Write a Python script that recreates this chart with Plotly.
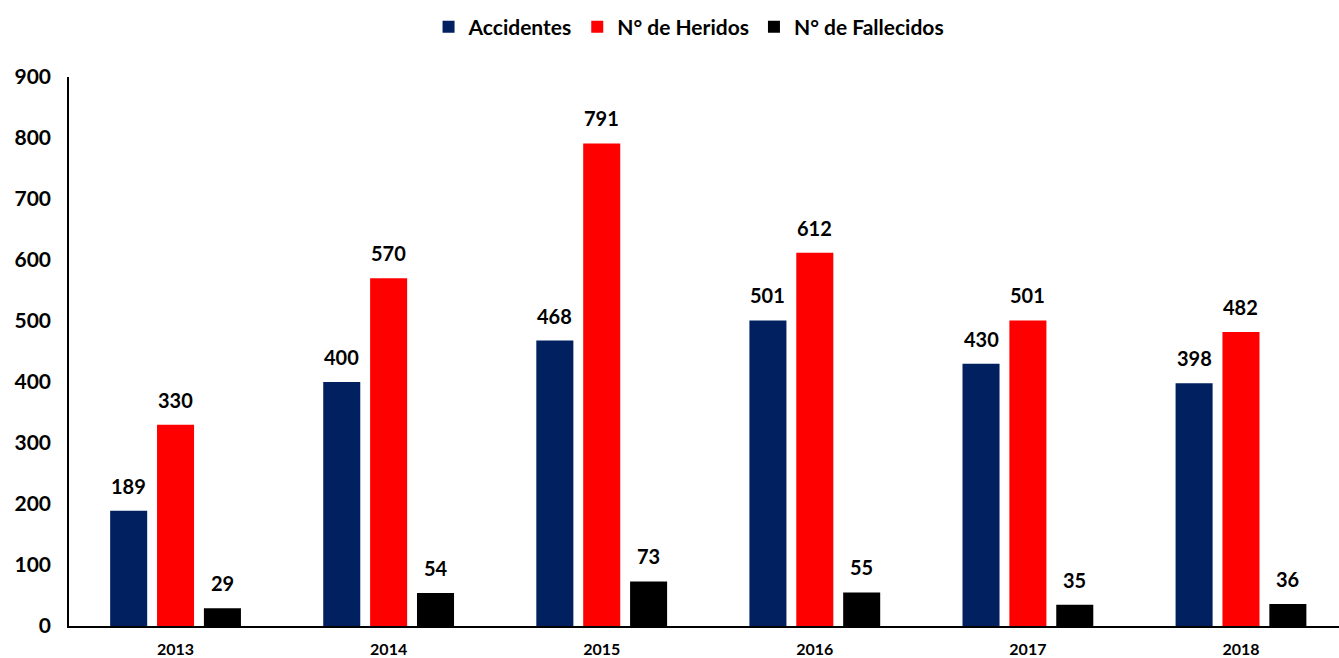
import plotly.graph_objects as go

years = ["2013", "2014", "2015", "2016", "2017", "2018"]
accidentes = [189, 400, 468, 501, 430, 398]
heridos = [330, 570, 791, 612, 501, 482]
fallecidos = [29, 54, 73, 55, 35, 36]

series = [
    ("Accidentes", accidentes, "#002060"),
    ("N° de Heridos", heridos, "#FF0000"),
    ("N° de Fallecidos", fallecidos, "#000000"),
]

FONT = "Lato, 'Open Sans', sans-serif"
BARGAP = 0.34
GROUPGAP = 0.21

fig = go.Figure()
for name, vals, color in series:
    fig.add_trace(go.Bar(
        x=years, y=vals, name=name,
        marker=dict(color=color, line=dict(width=0)),
    ))

# value labels above each bar, placed at the bar's centre in category units
slot = (1 - BARGAP) / len(series)
annotations = []
for i, (name, vals, color) in enumerate(series):
    offset = (i - (len(series) - 1) / 2) * slot
    for k, v in enumerate(vals):
        annotations.append(dict(
            x=k + offset, y=v, xref="x", yref="y",
            text=str(v), showarrow=False,
            yanchor="bottom", yshift=11,
            font=dict(family=FONT, size=20, color="#000000", weight="bold"),
        ))

fig.update_layout(
    width=1339, height=658,
    margin=dict(l=69, r=0, t=77, b=32),
    paper_bgcolor="white", plot_bgcolor="white",
    barmode="group", bargap=BARGAP, bargroupgap=GROUPGAP,
    font=dict(family=FONT, color="#000000", weight="bold"),
    legend=dict(
        orientation="h", x=0.5146, xanchor="center", xref="container",
        y=0.99, yref="container", yanchor="top",
        font=dict(family=FONT, size=21, weight="bold"),
        itemwidth=30,
        itemclick=False,
    ),
    annotations=annotations,
    xaxis=dict(
        type="category", range=[-0.5, 5.46],
        showline=True, linecolor="#000000", linewidth=2,
        showgrid=False, ticks="",
        ticklabelstandoff=8, automargin=False,
        tickfont=dict(family=FONT, size=16, weight="bold"),
    ),
    yaxis=dict(
        range=[0, 900], tickvals=list(range(0, 901, 100)),
        showline=True, linecolor="#000000", linewidth=1.5,
        showgrid=False, zeroline=False, ticks="",
        ticklabelstandoff=12, automargin=False,
        tickfont=dict(family=FONT, size=21, weight="bold"),
    ),
)

fig.write_html("out.html")
